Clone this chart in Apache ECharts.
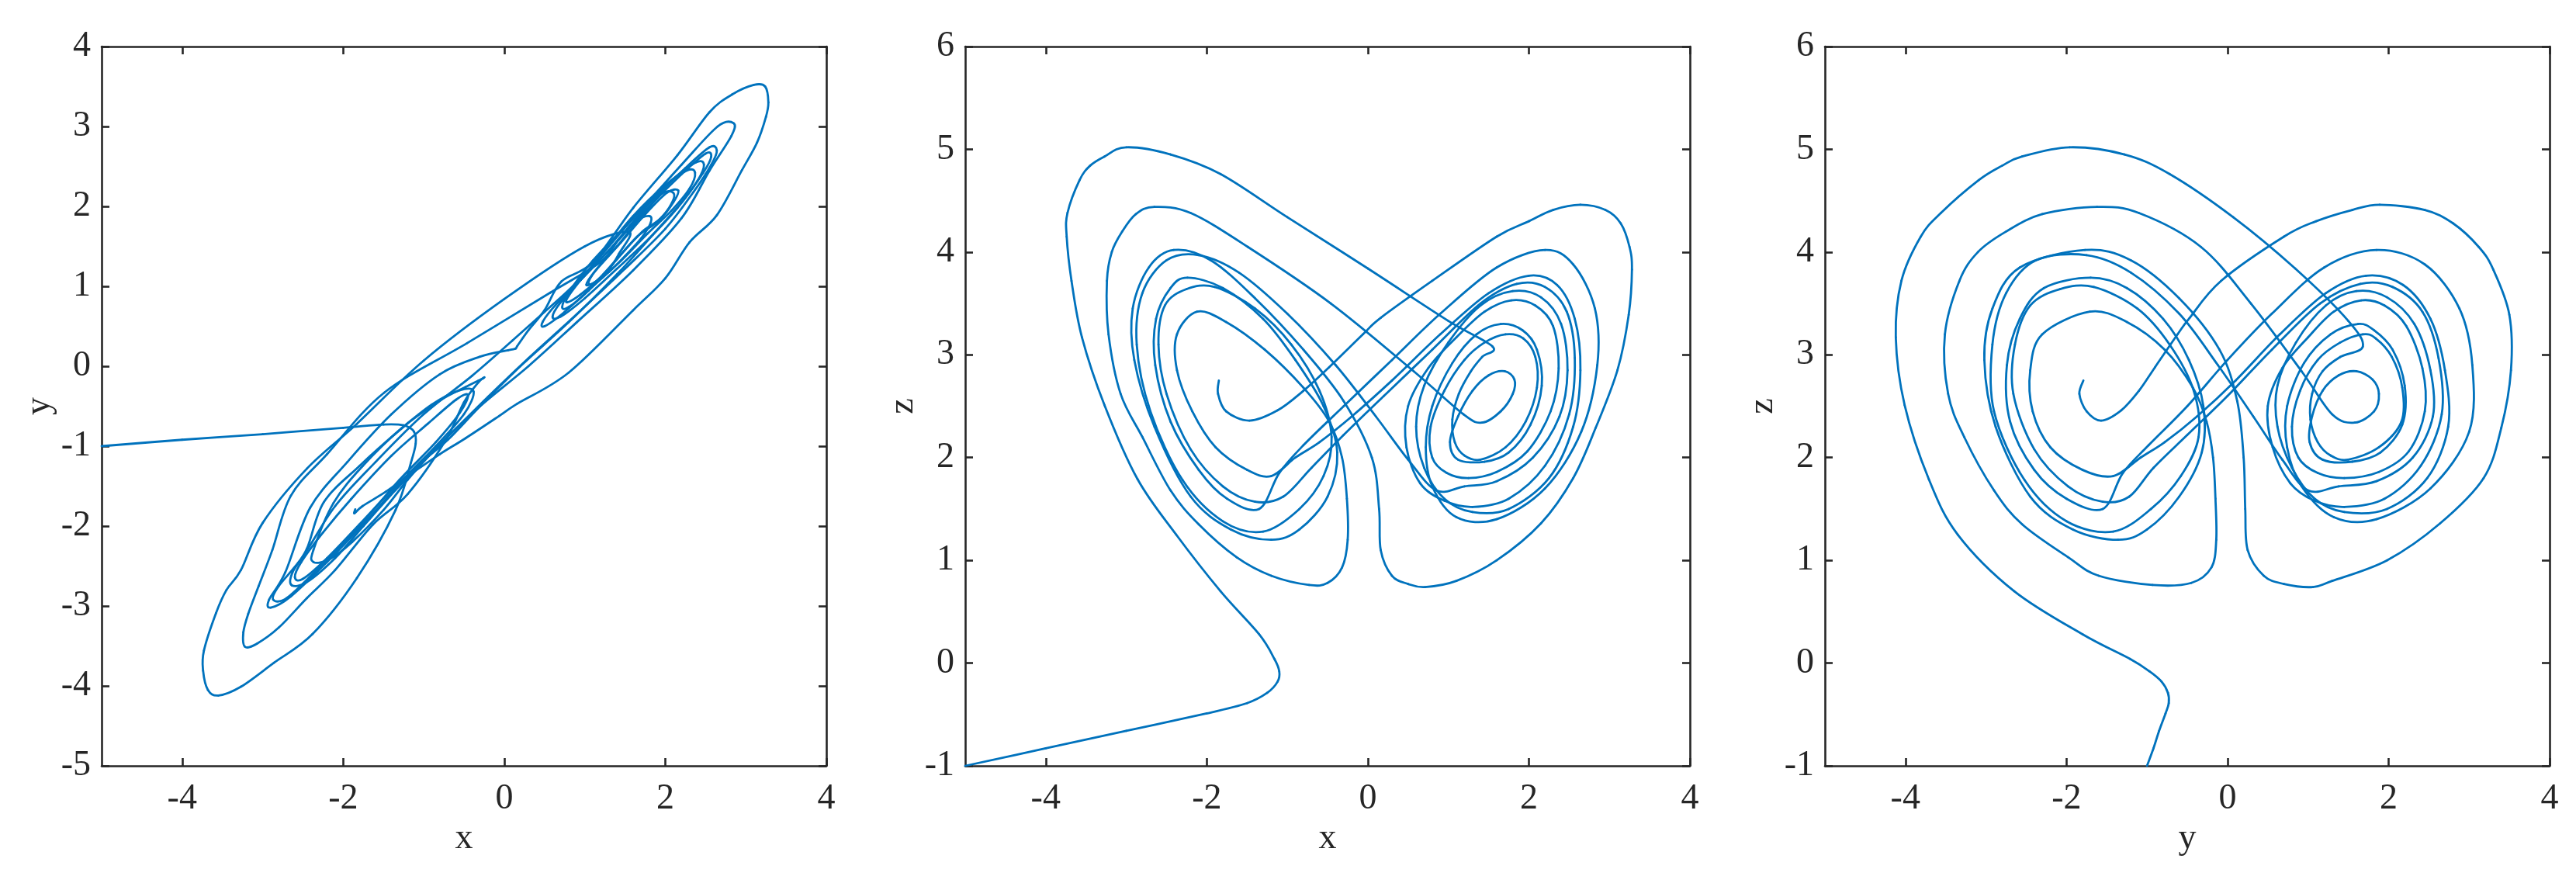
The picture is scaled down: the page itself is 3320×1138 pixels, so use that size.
<!DOCTYPE html>
<html lang="en">
	<head>
		<meta charset="UTF-8" />
		<title>Attractor projections</title>
		<script src="https://cdn.jsdelivr.net/npm/echarts@6/dist/echarts.min.js"></script>
	</head>
	<body style="margin: 0; background: #fff">
		<div id="main" style="width: 3320px; height: 1138px"></div>
		<script type="text/javascript">
			// trajectory, points are [x, y, z], in time order
			const transient = [
				[-5, -1, -1], [-4, -0.92, -0.83], [-3, -0.85, -0.66], [-2, -0.77, -0.49], [-1.5, -0.73, -0.39],
				[-1.25, -0.74, -0.29], [-1.12, -0.82, -0.18], [-1.1, -0.97, -0.08], [-1.16, -1.21, 0.04],
				[-1.35, -1.8, 0.28], [-1.83, -2.65, 0.7], [-2.38, -3.35, 1.25], [-2.86, -3.71, 1.79],
				[-3.27, -4.01, 2.51], [-3.55, -4.12, 3.17], [-3.68, -4.05, 3.72], [-3.74, -3.81, 4.15],
				[-3.73, -3.56, 4.38], [-3.58, -3.09, 4.7], [-3.45, -2.8, 4.84], [-3.27, -2.55, 4.93],
				[-3.0, -1.96, 5.02], [-2.45, -1.28, 4.95], [-1.83, -0.72, 4.76], [-1, 0.07, 4.34],
				[0, 0.84, 3.84], [1, 1.5, 3.33], [1.55, 1.68, 3.08],
			];
			const right2 = [
				[1.42, 1.4, 2.98], [1.28, 1.18, 2.84], [1.13, 1.05, 2.62], [1.05, 1.03, 2.37], [1.08, 1.12, 2.15],
				[1.2, 1.28, 2.02], [1.4, 1.5, 1.98], [1.71, 1.88, 2.1], [1.96, 2.16, 2.35], [2.1, 2.17, 2.68],
				[2.08, 2.04, 2.98], [1.93, 1.84, 3.16], [1.71, 1.68, 3.2], [1.45, 1.4, 3.12],
			];
			const right4 = [
				[1.2, 1.12, 2.95], [0.95, 0.9, 2.65], [0.78, 0.8, 2.3], [0.8, 0.88, 2.0], [0.98, 1.12, 1.85],
				[1.25, 1.45, 1.8], [1.6, 1.88, 1.86], [1.98, 2.25, 2.06], [2.27, 2.45, 2.45], [2.37, 2.42, 2.87],
				[2.3, 2.22, 3.28], [2.08, 1.95, 3.48], [1.78, 1.66, 3.53], [1.45, 1.32, 3.42],
			];
			const right6 = [
				[1.1, 1.0, 3.17], [0.75, 0.68, 2.87], [0.5, 0.5, 2.5], [0.48, 0.56, 2.1], [0.65, 0.78, 1.75],
				[0.95, 1.08, 1.58], [1.3, 1.45, 1.52], [1.75, 1.95, 1.6], [2.2, 2.4, 1.92], [2.5, 2.66, 2.42],
				[2.57, 2.62, 2.97], [2.47, 2.42, 3.42], [2.2, 2.05, 3.66], [1.85, 1.65, 3.69], [1.4, 1.15, 3.5],
				[0.8, 0.55, 3.05], [0.2, 0.0, 2.6], [-0.3, -0.5, 2.22], [-0.7, -0.92, 1.9],
			];
			const left2 = [
				[-1.05, -1.22, 1.62], [-1.4, -1.55, 1.57], [-1.8, -1.98, 1.72], [-2.2, -2.4, 2.08], [-2.5, -2.66, 2.62],
				[-2.6, -2.64, 3.1], [-2.52, -2.45, 3.48], [-2.25, -2.08, 3.64], [-1.9, -1.66, 3.66], [-1.4, -1.12, 3.45],
				[-0.95, -0.72, 3.1], [-0.6, -0.42, 2.65], [-0.45, -0.36, 2.2], [-0.55, -0.58, 1.82], [-0.85, -0.95, 1.5],
			];
			const left4 = [
				[-1.3, -1.42, 1.28], [-1.8, -2.0, 1.38], [-2.3, -2.52, 1.78], [-2.7, -2.9, 2.45], [-2.87, -2.92, 3.1],
				[-2.8, -2.75, 3.6], [-2.5, -2.38, 3.92], [-2.1, -1.75, 3.97], [-1.6, -1.2, 3.8], [-1.0, -0.6, 3.4],
				[-0.4, -0.12, 2.9], [0.1, 0.32, 2.4], [0.5, 0.68, 1.98], [0.85, 1.0, 1.68],
			];
			const right5 = [
				[1.2, 1.38, 1.72], [1.6, 1.85, 1.77], [2.05, 2.3, 2.0], [2.38, 2.55, 2.4], [2.48, 2.52, 2.85],
				[2.4, 2.32, 3.3], [2.15, 1.98, 3.56], [1.8, 1.6, 3.62], [1.4, 1.22, 3.48], [1.0, 0.85, 3.12],
				[0.7, 0.62, 2.7], [0.6, 0.62, 2.3], [0.7, 0.8, 1.9], [0.95, 1.08, 1.6], [1.3, 1.45, 1.47],
			];
			const right7 = [
				[1.75, 1.98, 1.5], [2.25, 2.48, 1.8], [2.55, 2.74, 2.3], [2.64, 2.7, 2.85], [2.57, 2.52, 3.35],
				[2.35, 2.18, 3.68], [2.0, 1.72, 3.77], [1.5, 1.22, 3.6], [0.9, 0.65, 3.2], [0.3, 0.1, 2.75],
				[-0.2, -0.38, 2.4], [-0.6, -0.78, 2.15], [-0.9, -1.08, 2.0],
			];
			const left1 = [
				[-1.2, -1.42, 1.82], [-1.5, -1.8, 1.88], [-1.89, -2.2, 2.1], [-2.18, -2.42, 2.45], [-2.37, -2.45, 2.85],
				[-2.37, -2.3, 3.2], [-2.12, -1.71, 3.42], [-1.76, -1.25, 3.32], [-1.28, -0.78, 3.05], [-0.8, -0.43, 2.68],
				[-0.48, -0.26, 2.35], [-0.32, -0.18, 2.0], [-0.26, -0.15, 1.6], [-0.25, -0.14, 1.2], [-0.32, -0.2, 0.93],
				[-0.5, -0.45, 0.78],
			];
			const leftBig = [
				[-0.73, -0.93, 0.76], [-1.2, -1.6, 0.85], [-1.63, -1.98, 1.03], [-2.1, -2.55, 1.35], [-2.45, -2.9, 1.68],
				[-2.8, -3.27, 2.2], [-3.07, -3.47, 2.62], [-3.22, -3.51, 3.2], [-3.24, -3.33, 3.72], [-3.18, -3.1, 4.0],
				[-3.05, -2.75, 4.2], [-2.88, -2.3, 4.37], [-2.65, -1.62, 4.44], [-2.2, -1.1, 4.38], [-1.49, -0.33, 4.05],
				[-0.46, 0.29, 3.5], [0.57, 0.92, 2.84], [1.19, 1.3, 2.42],
			];
			const right1and3 = [
				[1.42, 1.58, 2.34], [1.65, 1.82, 2.45], [1.8, 1.88, 2.62], [1.82, 1.8, 2.76], [1.7, 1.6, 2.84],
				[1.5, 1.38, 2.8], [1.3, 1.18, 2.65], [1.12, 1.05, 2.4], [1.02, 1.02, 2.15], [1.12, 1.18, 1.98],
				[1.45, 1.55, 1.96], [1.75, 1.9, 2.05], [2.02, 2.17, 2.32], [2.16, 2.2, 2.7], [2.1, 2.05, 3.05],
				[1.92, 1.82, 3.24], [1.65, 1.62, 3.3], [1.35, 1.28, 3.2], [1.05, 0.95, 2.92], [0.8, 0.74, 2.5],
				[0.72, 0.74, 2.1],
			];
			const right8 = [
				[0.8, 0.92, 1.72], [1.1, 1.32, 1.42], [1.6, 1.85, 1.4], [2.2, 2.52, 1.7], [2.65, 3.0, 2.25],
				[2.85, 3.04, 2.9], [2.82, 2.88, 3.45], [2.55, 2.45, 3.88], [2.2, 1.85, 4.02], [1.6, 1.2, 3.85],
				[0.9, 0.55, 3.4], [0.3, 0.0, 2.95], [-0.3, -0.5, 2.5], [-0.8, -0.98, 2.12], [-1.1, -1.3, 1.85],
			];
			const left3 = [
				[-1.35, -1.55, 1.5], [-1.75, -2.0, 1.6], [-2.1, -2.4, 1.88], [-2.45, -2.7, 2.35], [-2.64, -2.74, 2.9],
				[-2.63, -2.58, 3.35], [-2.45, -2.28, 3.65], [-2.24, -1.7, 3.75], [-1.8, -1.25, 3.65], [-1.3, -0.8, 3.35],
				[-0.9, -0.48, 2.95], [-0.55, -0.3, 2.5], [-0.38, -0.32, 2.05], [-0.5, -0.6, 1.62], [-0.85, -1.0, 1.3],
			];
			const left5 = [
				[-1.2, -1.36, 1.2], [-1.7, -1.92, 1.3], [-2.2, -2.45, 1.62], [-2.65, -2.88, 2.3], [-2.9, -3.02, 2.95],
				[-2.92, -2.92, 3.45], [-2.72, -2.58, 3.85], [-2.41, -1.77, 4.02], [-1.95, -1.2, 3.92], [-1.4, -0.6, 3.55],
				[-0.8, -0.1, 3.05], [-0.3, 0.12, 2.55], [0.05, 0.2, 2.0], [0.14, 0.22, 1.5], [0.16, 0.25, 1.1],
				[0.3, 0.45, 0.85], [0.5, 0.7, 0.77],
			];
			const right9AndTail = [
				[0.71, 1.06, 0.74], [1.1, 1.3, 0.8], [1.6, 1.98, 1.0], [2.15, 2.64, 1.36], [2.55, 3.18, 1.8],
				[2.83, 3.4, 2.29], [3.1, 3.52, 2.85], [3.24, 3.5, 3.39], [3.28, 3.3, 3.83], [3.25, 3.12, 4.05],
				[3.14, 2.8, 4.28], [2.95, 2.45, 4.41], [2.64, 1.89, 4.46], [2.3, 1.55, 4.41], [2.0, 1.1, 4.3],
				[1.6, 0.7, 4.15], [0.8, -0.08, 3.72], [0.16, -0.47, 3.36], [-0.06, -0.62, 3.2], [-0.48, -0.9, 2.88],
				[-0.8, -1.1, 2.65], [-1.12, -1.32, 2.46], [-1.47, -1.57, 2.36], [-1.76, -1.75, 2.45],
				[-1.86, -1.84, 2.62], [-1.85, -1.79, 2.75],
			];

			const xTicks = [-4, -2, 0, 2, 4];

			const path = [].concat(
				transient, right2, right4, right6, left2, left4, right5, right7,
				left1, leftBig, right1and3, right8, left3, left5, right9AndTail
			);

			const ink = "#262626";
			const font = "'Liberation Serif', 'Times New Roman', serif";

			// draws the path as a smooth curve through the read points,
			// positions come from the axes via api.coord
			function curve(a, b) {
				return function (params, api) {
					const pts = path.map((pt) => api.coord([pt[a], pt[b]]));
					const n = pts.length;
					let children = [];
					for (let i = 0; i + 1 < n; i++) {
						const p0 = pts[Math.max(i - 1, 0)];
						const p1 = pts[i];
						const p2 = pts[i + 1];
						const p3 = pts[Math.min(i + 2, n - 1)];
						children.push({
							type: "bezierCurve",
							shape: {
								x1: p1[0], y1: p1[1], x2: p2[0], y2: p2[1],
								cpx1: p1[0] + (p2[0] - p0[0]) / 6,
								cpy1: p1[1] + (p2[1] - p0[1]) / 6,
								cpx2: p2[0] - (p3[0] - p1[0]) / 6,
								cpy2: p2[1] - (p3[1] - p1[1]) / 6,
							},
							style: { fill: "none", stroke: "#0072BD", lineWidth: 2.8, lineCap: "round" },
						});
					}
					return { type: "group", children: children };
				};
			}

			// which coordinates each panel shows
			const panels = [
				{ left: 131, a: 0, b: 1, xName: "x", yName: "y", yMin: -5, yMax: 4 },
				{ left: 1244, a: 0, b: 2, xName: "x", yName: "z", yMin: -1, yMax: 6 },
				{ left: 2352, a: 1, b: 2, xName: "y", yName: "z", yMin: -1, yMax: 6 },
			];

			let grids = [], xAxes = [], yAxes = [], series = [];
			panels.forEach((p, i) => {
				grids.push({ left: p.left, top: 60, width: 934, height: 927, show: false });
				const line = { show: true, onZero: false, lineStyle: { color: ink, width: 2.6 } };
				const tick = { show: true, inside: true, length: 10, lineStyle: { color: ink, width: 2.6 } };
				const label = { color: ink, fontFamily: font, fontSize: 46 };
				xAxes.push({
					type: "value", gridIndex: i, min: -5, max: 4, position: "bottom",
					axisLine: line, splitLine: { show: false },
					axisTick: Object.assign({ customValues: xTicks }, tick),
					axisLabel: Object.assign({ customValues: xTicks, margin: 20 }, label),
					name: p.xName, nameLocation: "middle", nameGap: 64,
					nameTextStyle: { color: ink, fontFamily: font, fontSize: 46 },
				});
				xAxes.push({
					type: "value", gridIndex: i, min: -5, max: 4, position: "top",
					axisLine: line, splitLine: { show: false },
					axisTick: Object.assign({ customValues: xTicks }, tick),
					axisLabel: { show: false },
				});
				yAxes.push({
					type: "value", gridIndex: i, min: p.yMin, max: p.yMax, interval: 1, position: "left",
					axisLine: line, splitLine: { show: false }, axisTick: tick,
					axisLabel: Object.assign({ margin: 14 }, label),
					name: p.yName, nameLocation: "middle", nameGap: 57, nameRotate: 90,
					nameTextStyle: { color: ink, fontFamily: font, fontSize: 46 },
				});
				yAxes.push({
					type: "value", gridIndex: i, min: p.yMin, max: p.yMax, interval: 1, position: "right",
					axisLine: line, splitLine: { show: false }, axisTick: tick,
					axisLabel: { show: false },
				});
				series.push({
					type: "custom",
					xAxisIndex: 2 * i,
					yAxisIndex: 2 * i,
					data: [[0, 0]],
					renderItem: curve(p.a, p.b),
					silent: true,
				});
			});

			let myChart = echarts.init(document.getElementById("main"));
			myChart.setOption({
				animation: false,
				backgroundColor: "#fff",
				grid: grids,
				xAxis: xAxes,
				yAxis: yAxes,
				series: series,
			});
		</script>
	</body>
</html>
